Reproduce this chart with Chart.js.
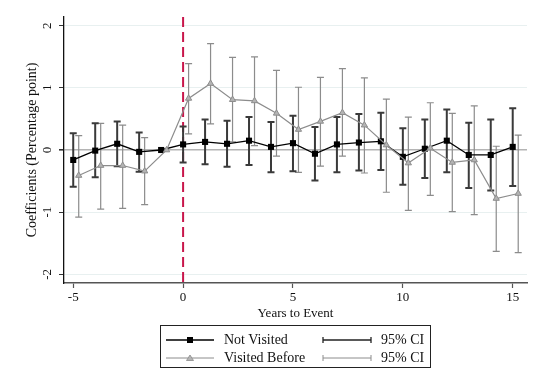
<!DOCTYPE html>
<html>
<head>
<meta charset="utf-8">
<script src="https://cdn.jsdelivr.net/npm/chart.js@4"></script>
<style>
  body { margin: 0; background: #fff; }
  #wrap { position: relative; width: 534px; height: 375px; font-family: "Liberation Serif", "Times New Roman", serif; }
  #legend {
    position: absolute; left: 160px; top: 325px; width: 271px; height: 43px;
    border: 1px solid #222; box-sizing: border-box; font-size: 14px; color: #111;
  }
  #legend .row { position: absolute; left: 0; height: 18px; width: 100%; }
  #legend svg { position: absolute; top: 1px; }
  #legend span { position: absolute; top: 0; line-height: 18px; white-space: nowrap; }
</style>
</head>
<body>
<div id="wrap">
  <canvas id="eventChart" width="534" height="375"></canvas>
  <div id="legend">
    <div class="row" style="top:5px">
      <svg style="left:5px" width="50" height="16"><line x1="0" y1="8" x2="48" y2="8" stroke="#000" stroke-width="1.4"/><rect x="21" y="5" width="6" height="6" fill="#000"/></svg>
      <span style="left:63px">Not Visited</span>
      <svg style="left:161px" width="52" height="16"><line x1="1" y1="8" x2="49" y2="8" stroke="#222" stroke-width="1.3"/><line x1="1" y1="5" x2="1" y2="11" stroke="#222" stroke-width="1.3"/><line x1="49" y1="5" x2="49" y2="11" stroke="#222" stroke-width="1.3"/></svg>
      <span style="left:220px">95% CI</span>
    </div>
    <div class="row" style="top:23px">
      <svg style="left:5px" width="50" height="16"><line x1="0" y1="8" x2="48" y2="8" stroke="#8c8c8c" stroke-width="1"/><polygon points="24,5 27.5,10.5 20.5,10.5" fill="#b4b4b4" stroke="#8c8c8c" stroke-width="0.8"/></svg>
      <span style="left:63px">Visited Before</span>
      <svg style="left:161px" width="52" height="16"><line x1="1" y1="8" x2="49" y2="8" stroke="#8c8c8c" stroke-width="1"/><line x1="1" y1="5" x2="1" y2="11" stroke="#8c8c8c" stroke-width="1"/><line x1="49" y1="5" x2="49" y2="11" stroke="#8c8c8c" stroke-width="1"/></svg>
      <span style="left:220px">95% CI</span>
    </div>
  </div>
</div>
<script>
// event-time coefficients, year -1 is the omitted reference year
const years = [-5, -4, -3, -2, -1, 0, 1, 2, 3, 4, 5, 6, 7, 8, 9, 10, 11, 12, 13, 14, 15];

const notVisited   = [-0.16, -0.01, 0.10, -0.03, 0, 0.09, 0.13, 0.10, 0.15, 0.05, 0.11, -0.06, 0.09, 0.12, 0.14, -0.11, 0.02, 0.15, -0.08, -0.08, 0.05];
const notVisitedLo = [-0.59, -0.44, -0.26, -0.35, null, -0.20, -0.23, -0.27, -0.24, -0.36, -0.34, -0.49, -0.36, -0.33, -0.32, -0.56, -0.45, -0.36, -0.61, -0.65, -0.58];
const notVisitedHi = [0.27, 0.43, 0.46, 0.28, null, 0.38, 0.49, 0.47, 0.53, 0.45, 0.55, 0.37, 0.53, 0.58, 0.60, 0.35, 0.49, 0.65, 0.44, 0.49, 0.67];

const visitedBefore   = [-0.41, -0.25, -0.25, -0.34, 0, 0.83, 1.07, 0.81, 0.79, 0.59, 0.33, 0.46, 0.60, 0.40, 0.08, -0.21, 0.03, -0.20, -0.16, -0.78, -0.70];
const visitedBeforeLo = [-1.08, -0.95, -0.94, -0.88, null, 0.26, 0.42, 0.13, 0.07, -0.10, -0.36, -0.26, -0.10, -0.37, -0.68, -0.97, -0.73, -0.99, -1.04, -1.63, -1.65];
const visitedBeforeHi = [0.23, 0.43, 0.40, 0.20, null, 1.39, 1.71, 1.49, 1.50, 1.28, 1.01, 1.17, 1.31, 1.16, 0.82, 0.53, 0.76, 0.59, 0.71, 0.06, 0.24];

const xTicks = [-5, 0, 5, 10, 15];
const yTicks = [-2, -1, 0, 1, 2];
const eventYear = 0;
const shift = 0.25; // second series is nudged right so the bars don't overlap

const toPoints = (vals, dx) => years.map((yr, i) => ({ x: yr + dx, y: vals[i] }));

// rcap-style confidence intervals
const ciPlugin = {
  id: 'ciBars',
  beforeDatasetsDraw(chart) {
    const { ctx, chartArea, scales: { x, y } } = chart;
    // vertical line at the event year
    const ex = x.getPixelForValue(eventYear);
    ctx.save();
    ctx.strokeStyle = '#c8164b';
    ctx.lineWidth = 2;
    ctx.setLineDash([10, 5]);
    ctx.beginPath();
    ctx.moveTo(ex, chartArea.top);
    ctx.lineTo(ex, chartArea.bottom);
    ctx.stroke();
    ctx.setLineDash([]);

    chart.data.datasets.forEach(ds => {
      ds.ciLo.forEach((lo, i) => {
        const hi = ds.ciHi[i];
        if (lo === null || hi === null) return;
        const px = x.getPixelForValue(years[i] + ds.dx);
        const pLo = y.getPixelForValue(lo);
        const pHi = y.getPixelForValue(hi);
        ctx.strokeStyle = ds.ciColor;
        ctx.lineWidth = ds.ciWidth;
        ctx.beginPath();
        ctx.moveTo(px, pLo); ctx.lineTo(px, pHi);
        ctx.moveTo(px - ds.capHalf, pLo); ctx.lineTo(px + ds.capHalf, pLo);
        ctx.moveTo(px - ds.capHalf, pHi); ctx.lineTo(px + ds.capHalf, pHi);
        ctx.stroke();
      });
    });
    ctx.restore();
  }
};

const family = '"Liberation Serif", "Times New Roman", serif';
const tickFont = { family, size: 13 };

new Chart(document.getElementById('eventChart'), {
  type: 'scatter',
  data: {
    datasets: [
      {
        label: 'Visited Before',
        data: toPoints(visitedBefore, shift),
        showLine: true,
        borderColor: '#8c8c8c',
        borderWidth: 1.2,
        pointStyle: 'triangle',
        pointRadius: 3.6,
        pointBackgroundColor: '#b4b4b4',
        pointBorderColor: '#8c8c8c',
        pointBorderWidth: 1,
        ciLo: visitedBeforeLo, ciHi: visitedBeforeHi, dx: shift,
        ciColor: '#8c8c8c', ciWidth: 1.2, capHalf: 3.5
      },
      {
        label: 'Not Visited',
        data: toPoints(notVisited, 0),
        showLine: true,
        borderColor: '#000',
        borderWidth: 1.3,
        pointStyle: 'rect',
        pointRadius: 4.3,
        pointBackgroundColor: '#000',
        pointBorderColor: '#000',
        pointBorderWidth: 0,
        ciLo: notVisitedLo, ciHi: notVisitedHi, dx: 0,
        ciColor: '#3a3a3a', ciWidth: 2, capHalf: 3.5
      }
    ]
  },
  options: {
    responsive: false,
    animation: false,
    layout: { padding: { top: 17, right: 7, left: 0, bottom: 52 } },
    plugins: { legend: { display: false }, tooltip: { enabled: false } },
    scales: {
      x: {
        type: 'linear',
        min: -5.42, max: 15.65,
        afterBuildTicks: s => { s.ticks = xTicks.map(v => ({ value: v })); },
        afterFit: s => { s.height = 40; },
        grid: { drawOnChartArea: false, tickLength: 5, tickColor: '#555', tickWidth: 1.2 },
        border: { color: '#555', width: 1.6 },
        ticks: { color: '#111', font: tickFont, padding: 2, maxRotation: 0 },
        title: { display: true, text: 'Years to Event', color: '#111', font: tickFont, padding: { top: 0, bottom: 2 } }
      },
      y: {
        min: -2.14, max: 2.14,
        afterBuildTicks: s => { s.ticks = yTicks.map(v => ({ value: v })); },
        afterFit: s => { s.width = 64; },
        grid: {
          color: c => c.tick && c.tick.value === 0 ? '#b4b4b4' : '#e8f0f0',
          lineWidth: c => c.tick && c.tick.value === 0 ? 1.6 : 1,
          tickLength: 5, tickColor: '#333'
        },
        border: { color: '#111', width: 1.3 },
        ticks: { color: '#111', font: tickFont, padding: 6, minRotation: 90, maxRotation: 90, crossAlign: 'center' },
        title: { display: true, text: 'Coefficients (Percentage point)', color: '#111', font: { family, size: 14 }, padding: { top: 24, bottom: 0 } }
      }
    }
  },
  plugins: [ciPlugin]
});
</script>
</body>
</html>
